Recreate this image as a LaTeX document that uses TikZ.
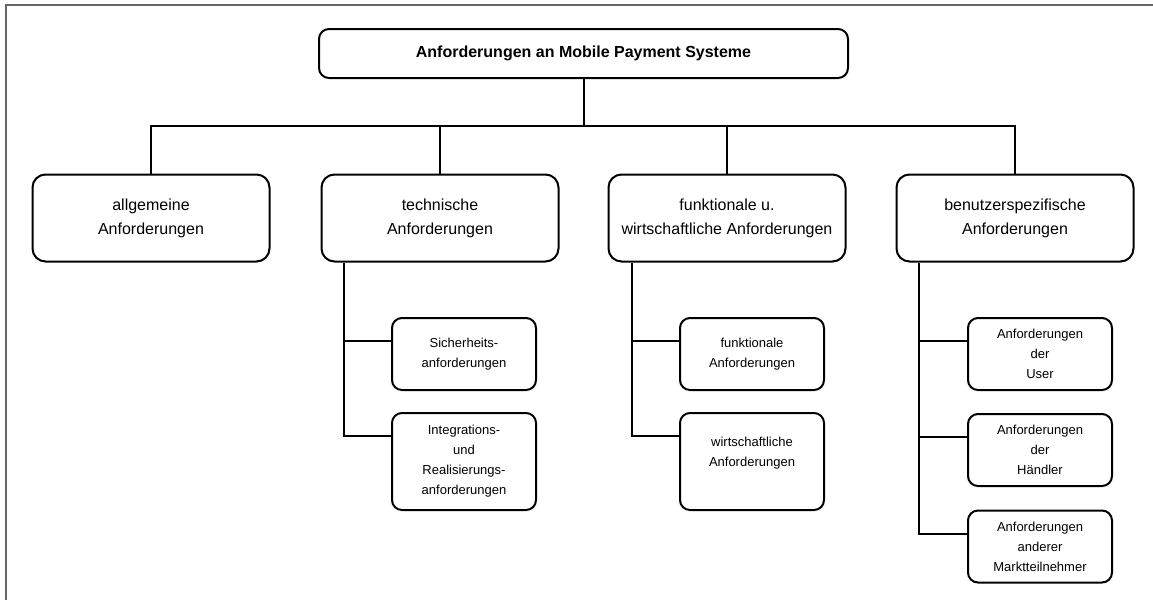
\documentclass[tikz,border=0pt]{standalone}
\usepackage{fontspec}
\setmainfont{Liberation Sans}
\usetikzlibrary{calc}

\begin{document}
\begin{tikzpicture}[x=0.75pt, y=-0.75pt, line join=miter,
  box/.style={draw=black, line width=1.5pt, fill=white, inner sep=0pt,
    align=center, text=black},
  titlebox/.style={box, rounded corners=7.5pt, minimum width=396.75pt,
    minimum height=36.75pt, font=\fontsize{12pt}{14pt}\selectfont\bfseries},
  mainbox/.style={box, rounded corners=9.75pt, minimum width=177.75pt,
    minimum height=65.25pt, font=\fontsize{12pt}{18pt}\selectfont},
  subbox/.style={box, rounded corners=7.5pt, minimum width=108pt,
    minimum height=54pt, font=\fontsize{9.75pt}{15pt}\selectfont},
  tallbox/.style={subbox, minimum height=72.75pt},
  link/.style={draw=black, line width=1.5pt},
  frame/.style={draw=black!60, line width=1.1pt}]

  \useasboundingbox (0,0) rectangle (1153,600);

  % frame on the top and left edge
  \coordinate (fa) at (1153,5);
  \coordinate (fb) at (6,5);
  \coordinate (fc) at (6,600);
  \draw[frame] (fa) -- (fb) -- (fc);

  % root
  \node[titlebox] (root) at (583.5,53.5) {Anforderungen an Mobile Payment Systeme};

  % first level
  \node[mainbox] (b1) at (151,218) {allgemeine\\Anforderungen};
  \node[mainbox] (b2) at (440,218) {technische\\Anforderungen};
  \node[mainbox] (b3) at (727,218) {funktionale u.\\wirtschaftliche Anforderungen};
  \node[mainbox] (b4) at (1015,218) {benutzerspezifische\\Anforderungen};

  % second level
  \node[subbox]  (s21) at (464,354)   {Sicherheits-\\anforderungen};
  \node[tallbox] (s22) at (464,461.5) {Integrations-\\und\\Realisierungs-\\anforderungen};
  \node[subbox]  (s31) at (752,354)   {funktionale\\Anforderungen};
  \node[tallbox] (s32) at (752,461.5) {wirtschaftliche\\Anforderungen\\\mbox{}};
  \node[subbox]  (s41) at (1040,354)  {Anforderungen\\der\\User};
  \node[subbox]  (s42) at (1040,450)  {Anforderungen\\der\\Händler};
  \node[subbox]  (s43) at (1040,546.5){Anforderungen\\anderer\\Marktteilnehmer};

  % bus below the root
  \coordinate (bus) at ($(root.south)+(0,47)$);
  \draw[link] (root.south) -- (bus);
  \draw[link] (b1.north) |- (bus) -| (b4.north);
  \draw[link] (b2.north) -- (b2.north |- bus);
  \draw[link] (b3.north) -- (b3.north |- bus);

  % trunks of the second level
  \coordinate (t2) at ($(b2.south west)+(23,0)$);
  \coordinate (t3) at ($(b3.south west)+(24,0)$);
  \coordinate (t4) at ($(b4.south west)+(23,0)$);
  \foreach \s in {s21,s22,s31,s32,s41,s42,s43}
    \coordinate (\s c) at ($(\s.north west)+(0,24)$);

  \draw[link] (t2) |- (s22c);
  \draw[link] (s21c) -- (t2 |- s21c);
  \draw[link] (t3) |- (s32c);
  \draw[link] (s31c) -- (t3 |- s31c);
  \draw[link] (t4) |- (s43c);
  \draw[link] (s41c) -- (t4 |- s41c);
  \draw[link] (s42c) -- (t4 |- s42c);
\end{tikzpicture}
\end{document}
